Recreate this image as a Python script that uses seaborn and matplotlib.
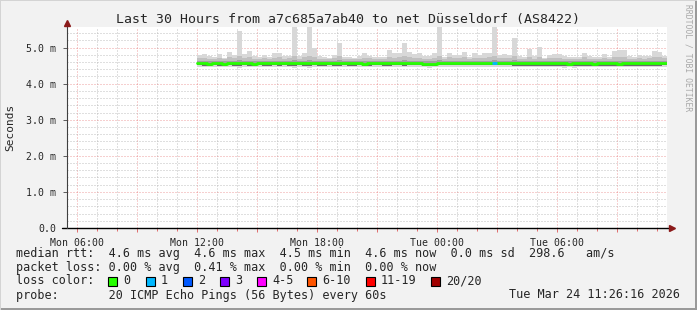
import numpy as np
import pandas as pd
import matplotlib
matplotlib.use("Agg")
import matplotlib.pyplot as plt
import seaborn as sns
from matplotlib.patches import Rectangle
from matplotlib.lines import Line2D

# ---------------- data ----------------
title = "Last 30 Hours from a7c685a7ab40 to net Düsseldorf (AS8422)"
x_tick_hours = [6, 12, 18, 24, 30]
x_tick_labels = ["Mon 06:00", "Mon 12:00", "Mon 18:00", "Tue 00:00", "Tue 06:00"]
y_ticks = [0, 1, 2, 3, 4, 5]
y_tick_labels = ["0.0", "1.0 m", "2.0 m", "3.0 m", "4.0 m", "5.0 m"]
x_range_hours = (5.5, 35.5)
y_max_ms = 5.57

data_start_hour = 12.0
bin_hours = 0.25

rtt_max = [
    4.79, 4.82, 4.76, 4.73, 4.82, 4.72, 4.88, 4.79, 5.46, 4.82,
    4.90, 4.76, 4.74, 4.79, 4.75, 4.84, 4.86, 4.76, 4.78, 5.60,
    4.76, 4.86, 5.60, 4.98, 4.76, 4.75, 4.71, 4.79, 5.13, 4.75,
    4.73, 4.70, 4.76, 4.86, 4.78, 4.73, 4.73, 4.74, 4.93, 4.84,
    4.86, 5.13, 4.88, 4.82, 4.84, 4.76, 4.77, 4.84, 5.58, 4.75,
    4.86, 4.79, 4.79, 4.88, 4.75, 4.84, 4.79, 4.84, 4.86, 5.58,
    4.79, 4.82, 4.80, 5.27, 4.76, 4.73, 4.96, 4.76, 5.02, 4.72,
    4.80, 4.82, 4.82, 4.76, 4.75, 4.73, 4.75, 4.86, 4.77, 4.75,
    4.75, 4.82, 4.73, 4.90, 4.93, 4.92, 4.76, 4.73, 4.79, 4.76,
    4.77, 4.90, 4.87, 4.77,
]
rtt_p90 = [
    4.70, 4.72, 4.69, 4.68, 4.72, 4.68, 4.74, 4.70, 4.76, 4.71,
    4.74, 4.69, 4.68, 4.70, 4.68, 4.72, 4.73, 4.69, 4.70, 4.78,
    4.69, 4.73, 4.78, 4.75, 4.69, 4.68, 4.67, 4.70, 4.76, 4.68,
    4.68, 4.67, 4.69, 4.72, 4.70, 4.68, 4.68, 4.68, 4.74, 4.72,
    4.73, 4.76, 4.74, 4.71, 4.72, 4.69, 4.69, 4.72, 4.78, 4.69,
    4.73, 4.70, 4.70, 4.74, 4.69, 4.72, 4.70, 4.72, 4.73, 4.78,
    4.70, 4.71, 4.70, 4.76, 4.69, 4.68, 4.74, 4.69, 4.74, 4.68,
    4.70, 4.71, 4.71, 4.69, 4.68, 4.68, 4.69, 4.73, 4.69, 4.69,
    4.69, 4.71, 4.68, 4.74, 4.75, 4.74, 4.69, 4.68, 4.70, 4.69,
    4.70, 4.74, 4.73, 4.70,
]
rtt_p75 = [
    4.63, 4.64, 4.62, 4.62, 4.64, 4.62, 4.64, 4.63, 4.65, 4.63,
    4.64, 4.62, 4.62, 4.63, 4.62, 4.64, 4.64, 4.63, 4.62, 4.65,
    4.62, 4.64, 4.65, 4.64, 4.63, 4.62, 4.62, 4.63, 4.65, 4.62,
    4.62, 4.62, 4.63, 4.64, 4.63, 4.62, 4.62, 4.62, 4.64, 4.63,
    4.64, 4.65, 4.64, 4.63, 4.64, 4.62, 4.62, 4.63, 4.65, 4.63,
    4.64, 4.63, 4.63, 4.64, 4.63, 4.64, 4.63, 4.64, 4.64, 4.65,
    4.63, 4.64, 4.63, 4.65, 4.62, 4.62, 4.64, 4.62, 4.64, 4.62,
    4.63, 4.63, 4.63, 4.62, 4.62, 4.62, 4.62, 4.64, 4.62, 4.62,
    4.62, 4.63, 4.62, 4.64, 4.64, 4.64, 4.62, 4.62, 4.63, 4.62,
    4.63, 4.64, 4.64, 4.62,
]
rtt_median = [
    4.56, 4.56, 4.55, 4.56, 4.56, 4.55, 4.56, 4.56, 4.57, 4.56,
    4.56, 4.55, 4.56, 4.56, 4.56, 4.56, 4.56, 4.57, 4.56, 4.56,
    4.56, 4.56, 4.56, 4.57, 4.56, 4.56, 4.56, 4.56, 4.56, 4.57,
    4.56, 4.56, 4.56, 4.55, 4.56, 4.56, 4.57, 4.56, 4.56, 4.57,
    4.57, 4.56, 4.57, 4.57, 4.57, 4.54, 4.54, 4.55, 4.57, 4.57,
    4.57, 4.57, 4.57, 4.57, 4.57, 4.57, 4.57, 4.58, 4.57, 4.57,
    4.57, 4.57, 4.57, 4.56, 4.56, 4.56, 4.56, 4.56, 4.56, 4.56,
    4.56, 4.56, 4.56, 4.56, 4.55, 4.56, 4.56, 4.56, 4.56, 4.55,
    4.56, 4.56, 4.56, 4.56, 4.55, 4.56, 4.56, 4.56, 4.56, 4.56,
    4.56, 4.56, 4.56, 4.57,
]
rtt_p25 = [
    4.51, 4.50, 4.50, 4.51, 4.50, 4.50, 4.51, 4.50, 4.50, 4.51,
    4.50, 4.50, 4.51, 4.50, 4.50, 4.51, 4.50, 4.51, 4.50, 4.50,
    4.51, 4.50, 4.50, 4.51, 4.50, 4.50, 4.51, 4.50, 4.50, 4.51,
    4.50, 4.50, 4.51, 4.50, 4.50, 4.51, 4.51, 4.50, 4.50, 4.51,
    4.51, 4.50, 4.51, 4.51, 4.51, 4.49, 4.49, 4.50, 4.51, 4.51,
    4.51, 4.51, 4.51, 4.51, 4.51, 4.51, 4.51, 4.52, 4.51, 4.51,
    4.51, 4.51, 4.51, 4.50, 4.50, 4.50, 4.50, 4.50, 4.50, 4.50,
    4.50, 4.50, 4.50, 4.49, 4.49, 4.49, 4.50, 4.50, 4.50, 4.49,
    4.50, 4.50, 4.50, 4.50, 4.49, 4.50, 4.50, 4.50, 4.50, 4.50,
    4.50, 4.50, 4.50, 4.51,
]
rtt_min = [
    4.46, 4.45, 4.46, 4.46, 4.45, 4.46, 4.45, 4.46, 4.44, 4.46,
    4.45, 4.46, 4.46, 4.45, 4.46, 4.46, 4.45, 4.46, 4.46, 4.44,
    4.46, 4.45, 4.44, 4.46, 4.46, 4.45, 4.46, 4.46, 4.45, 4.46,
    4.46, 4.45, 4.46, 4.46, 4.45, 4.46, 4.46, 4.45, 4.46, 4.46,
    4.45, 4.46, 4.46, 4.46, 4.45, 4.45, 4.44, 4.45, 4.45, 4.46,
    4.46, 4.45, 4.46, 4.46, 4.45, 4.46, 4.46, 4.45, 4.46, 4.45,
    4.46, 4.46, 4.45, 4.45, 4.46, 4.46, 4.45, 4.46, 4.46, 4.45,
    4.46, 4.46, 4.45, 4.44, 4.45, 4.44, 4.46, 4.45, 4.46, 4.46,
    4.45, 4.46, 4.46, 4.45, 4.45, 4.46, 4.46, 4.45, 4.46, 4.46,
    4.45, 4.46, 4.46, 4.46,
]
# lost pings (out of 20) for the bins where any were lost
loss_nonzero = {59: 1}

loss_labels = ["0", "1", "2", "3", "4-5", "6-10", "11-19", "20/20"]
loss_colors = ["#26ff00", "#00b8ff", "#0059ff", "#7e00ff",
               "#ff00ff", "#ff5500", "#ff0000", "#a10000"]

legend_rows = [
    "median rtt:  4.6 ms avg  4.6 ms max  4.5 ms min  4.6 ms now  0.0 ms sd  298.6   am/s",
    "packet loss: 0.00 % avg  0.41 % max  0.00 % min  0.00 % now",
]
probe_text = "probe:       20 ICMP Echo Pings (56 Bytes) every 60s"
date_text = "Tue Mar 24 11:26:16 2026"
watermark = "RRDTOOL / TOBI OETIKER"
y_label = "Seconds"

# ---------------- figure ----------------
W, H = 697, 310
sns.set_theme(style="white")
plt.rcParams["font.family"] = ["DejaVu Sans Mono", "DejaVu Sans"]
BG = "#f2f2f2"
fig = plt.figure(figsize=(W / 100, H / 100), dpi=100, facecolor=BG)

def fx(x):
    return x / W

def fy(y):
    return 1 - y / H

left, right, top, bottom = 67, 667, 27, 228
ax = fig.add_axes([fx(left), fy(bottom), (right - left) / W, (bottom - top) / H])
ax.set_facecolor("white")

n = len(rtt_median)
t = data_start_hour + bin_hours * np.arange(n + 1)

def ext(a):
    a = list(a)
    return np.array(a + [a[-1]])

df = pd.DataFrame({"hour": t, "median": ext(rtt_median)})

ax.fill_between(t, ext(rtt_min), ext(rtt_max), step="post", color="#d8d8d8", lw=0, zorder=2)
ax.fill_between(t, ext(rtt_p25), ext(rtt_p90), step="post", color="#c0c0c0", lw=0, zorder=3)
ax.fill_between(t, ext(rtt_p25), ext(rtt_p75), step="post", color="#a0a0a0", lw=0, zorder=4)
ax.fill_between(t, ext(rtt_p25), ext(rtt_median), step="post", color="#6a6a6a", lw=0, zorder=5)

sns.lineplot(data=df, x="hour", y="median", drawstyle="steps-post",
             color=loss_colors[0], linewidth=2.0, ax=ax, zorder=6)

def loss_color(k):
    if k <= 3:
        return loss_colors[k]
    if k <= 5:
        return loss_colors[4]
    if k <= 10:
        return loss_colors[5]
    if k <= 19:
        return loss_colors[6]
    return loss_colors[7]

for i, k in loss_nonzero.items():
    ax.hlines(rtt_median[i], t[i], t[i + 1], colors=loss_color(k), lw=2.0, zorder=7)

ax.set_xlim(*x_range_hours)
ax.set_ylim(0, y_max_ms)
ax.set_xlabel("")
ax.set_ylabel("")

# grid
ax.set_xticks(np.arange(6, 36, 3))
ax.set_xticklabels([x_tick_labels[x_tick_hours.index(h)] if h in x_tick_hours else ""
                    for h in np.arange(6, 36, 3)])
ax.set_xticks(np.arange(6, 36, 1), minor=True)
ax.set_yticks(y_ticks)
ax.set_yticklabels(y_tick_labels)
ax.set_yticks(np.arange(0, 5.6, 0.2), minor=True)
ax.set_axisbelow(True)
dot = (0, (1, 2))
ax.grid(which="major", color="#e05050", alpha=0.55, lw=0.72, linestyle=dot, zorder=1)
ax.grid(which="minor", color="#b0b0b0", alpha=0.8, lw=0.72, linestyle=dot, zorder=1)
ax.tick_params(axis="x", which="major", length=3, width=0.72, color="#e07070",
               labelsize=7.1, pad=4, bottom=True)
ax.tick_params(axis="x", which="minor", length=2, width=0.72, color="#e07070", bottom=True)
ax.tick_params(axis="y", which="major", length=3, width=0.72, color="#606060",
               labelsize=7.1, pad=5, left=True)
ax.tick_params(axis="y", which="minor", length=0)
for s in ax.spines.values():
    s.set_visible(False)

# axis lines and arrows
fig.add_artist(Line2D([fx(62), fx(669)], [fy(228), fy(228)], color="black", lw=1.0))
fig.add_artist(Line2D([fx(67), fx(67)], [fy(228), fy(25)], color="#404040", lw=0.8))
fig.add_artist(Line2D([fx(672)], [fy(228)], marker=">", color="#8b1a1a", markersize=4.5, lw=0))
fig.add_artist(Line2D([fx(67)], [fy(23)], marker="^", color="#8b1a1a", markersize=4.5, lw=0))

# texts
fig.text(fx(348), fy(19), title, ha="center", va="center", fontsize=9.5)
fig.text(fx(10), fy(127), y_label, ha="center", va="center", rotation=90, fontsize=8)
fig.text(fx(688), fy(4), watermark, ha="center", va="top", rotation=270,
         fontsize=5.8, color="#a8a8a8")

fs = 8.5
fig.text(fx(16), fy(254), legend_rows[0], ha="left", va="center", fontsize=fs)
fig.text(fx(16), fy(268), legend_rows[1], ha="left", va="center", fontsize=fs)
fig.text(fx(16), fy(281), "loss color:", ha="left", va="center", fontsize=fs)
box_x = [108, 146, 183, 220, 257, 307, 366, 431]
for bx, lab, col in zip(box_x, loss_labels, loss_colors):
    fig.add_artist(Rectangle((fx(bx), fy(286)), 9 / W, 9 / H, facecolor=col,
                             edgecolor="black", lw=0.8))
    fig.text(fx(bx + 15), fy(281), lab, ha="left", va="center", fontsize=fs)
fig.text(fx(16), fy(295), probe_text, ha="left", va="center", fontsize=fs)
fig.text(fx(680), fy(295), date_text, ha="right", va="center", fontsize=fs)

# frame shading
fig.add_artist(Rectangle((0, 0), 1, 2 / H, facecolor="#9a9a9a", lw=0))
fig.add_artist(Rectangle((1 - 2 / W, 0), 2 / W, 1, facecolor="#9a9a9a", lw=0))
fig.add_artist(Rectangle((0, 1 - 1 / H), 1, 1 / H, facecolor="#d4d4d4", lw=0))
fig.add_artist(Rectangle((0, 0), 1 / W, 1, facecolor="#d4d4d4", lw=0))

fig.savefig("out.png", dpi=100, facecolor=BG)
